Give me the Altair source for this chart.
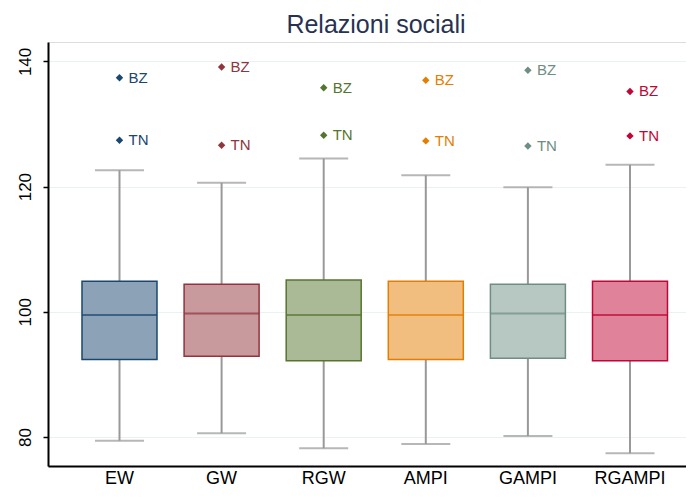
import altair as alt
import pandas as pd

categories = ["EW", "GW", "RGW", "AMPI", "GAMPI", "RGAMPI"]
lower_whisker = [79.4, 80.6, 78.2, 78.9, 80.15, 77.4]
q1 = [92.4, 92.9, 92.2, 92.4, 92.6, 92.2]
median = [99.5, 99.75, 99.5, 99.5, 99.75, 99.5]
q3 = [104.9, 104.4, 105.1, 104.9, 104.4, 104.9]
upper_whisker = [122.6, 120.6, 124.5, 121.8, 119.9, 123.5]
bz_values = [137.4, 139.1, 135.8, 137.0, 138.6, 135.2]
tn_values = [127.4, 126.6, 128.2, 127.3, 126.5, 128.1]
outlier_labels = ["BZ", "TN"]

line_colors = ["#1A476F", "#90353B", "#55752F", "#E37E00", "#6E8E84", "#C10534"]
fill_colors = ["#8CA3B7", "#C89A9D", "#AABA97", "#F1BE7F", "#B7C7C1", "#E0829A"]

boxes = pd.DataFrame({
    "cat": categories, "lo": lower_whisker, "q1": q1, "med": median,
    "q3": q3, "hi": upper_whisker,
})
rows = []
for c, b, t in zip(categories, bz_values, tn_values):
    rows.append({"cat": c, "val": b, "lab": outlier_labels[0]})
    rows.append({"cat": c, "val": t, "lab": outlier_labels[1]})
outl = pd.DataFrame(rows)

FONT = "Liberation Sans"
xscale = alt.Scale(type="band", domain=categories, paddingInner=0,
                   paddingOuter=0.1244, align=0.805)
yscale = alt.Scale(domain=[75.37, 143.1], nice=False, zero=False)
color_line = alt.Scale(domain=categories, range=line_colors)
color_fill = alt.Scale(domain=categories, range=fill_colors)

x = alt.X("cat:N", scale=xscale, sort=categories,
          axis=alt.Axis(title=None, ticks=False, grid=False, domainColor="black",
                        domainWidth=2, labelFont=FONT, labelFontSize=18,
                        labelColor="black", labelPadding=3, labelAngle=0))

base = alt.Chart(boxes)

whisk = base.mark_rule(color="#999999", strokeWidth=2).encode(
    x=x,
    y=alt.Y("lo:Q", scale=yscale,
            axis=alt.Axis(title=None, values=[80, 100, 120, 140], grid=True,
                          gridColor="#EAF1F3", gridWidth=1, domainColor="black",
                          domainWidth=2, tickColor="black", tickSize=5, tickWidth=1.5,
                          labelAngle=270, labelAlign="center", labelBaseline="bottom",
                          labelFont=FONT, labelFontSize=17, labelColor="black",
                          labelPadding=9)),
    y2="hi:Q",
)
cap_lo = base.mark_tick(color="#999999", size=49, thickness=2).encode(x=x, y=alt.Y("lo:Q", scale=yscale))
cap_hi = base.mark_tick(color="#999999", size=49, thickness=2).encode(x=x, y=alt.Y("hi:Q", scale=yscale))
box = base.mark_bar(size=75, strokeWidth=1.5).encode(
    x=x, y=alt.Y("q1:Q", scale=yscale), y2="q3:Q",
    fill=alt.Fill("cat:N", scale=color_fill, legend=None),
    stroke=alt.Stroke("cat:N", scale=color_line, legend=None),
)
med = base.mark_tick(size=75, thickness=2).encode(
    x=x, y=alt.Y("med:Q", scale=yscale),
    color=alt.Color("cat:N", scale=color_line, legend=None),
)

ob = alt.Chart(outl)
pts = ob.mark_point(shape="diamond", filled=True, size=55, opacity=1).encode(
    x=x, y=alt.Y("val:Q", scale=yscale),
    color=alt.Color("cat:N", scale=color_line, legend=None),
)
labs = ob.mark_text(align="left", baseline="middle", dx=9, font=FONT, fontSize=15).encode(
    x=x, y=alt.Y("val:Q", scale=yscale), text="lab:N",
    color=alt.Color("cat:N", scale=color_line, legend=None),
)

chart = alt.layer(whisk, cap_lo, cap_hi, box, med, pts, labs).properties(
    width=638, height=424,
    padding={"left": 40, "top": 34, "right": 0, "bottom": 23},
    autosize=alt.AutoSizeParams(type="none"),
    title=alt.TitleParams("Relazioni sociali", font=FONT, fontSize=25,
                          fontWeight="normal", color="#283250", offset=4, dx=9),
).configure_view(stroke=None).configure(background="white")

chart.save("out.html", embed_options={"renderer": "svg", "actions": False})
